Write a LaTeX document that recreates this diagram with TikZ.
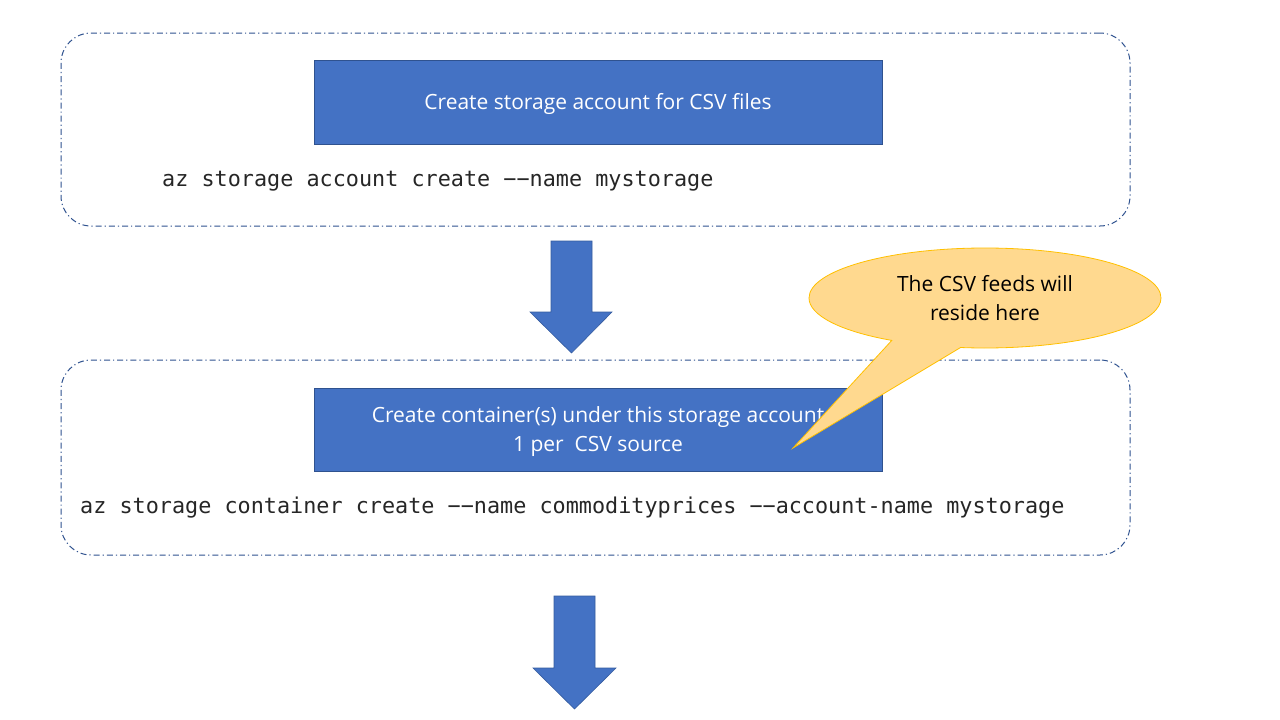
\documentclass[tikz,border=0pt]{standalone}
\usepackage{fontspec}
\setmainfont{Open Sans}
\newfontfamily\codefont{DejaVu Sans Mono}
\usetikzlibrary{shapes.callouts}
\definecolor{boxblue}{HTML}{4472C4}
\definecolor{boxedge}{HTML}{2F528F}
\definecolor{calloutfill}{HTML}{FFD98F}
\definecolor{calloutedge}{HTML}{FFC000}
\newcommand{\lowr}[1]{\raisebox{-2pt}[\height][\depth]{#1}}
\tikzset{
  groupbox/.style={draw=boxedge, line width=1pt, rounded corners=30pt,
    dash pattern=on 6pt off 3pt on 1.2pt off 3pt, inner sep=0pt},
  stepbox/.style={draw=boxedge, line width=1pt, fill=boxblue, text=white,
    minimum width=568pt, inner sep=0pt, align=center,
    font=\fontsize{21pt}{29pt}\selectfont},
  codetext/.style={anchor=west, inner sep=0pt, text=black!85,
    font=\codefont\fontsize{21.8pt}{26pt}\selectfont},
  blockarrow/.style={fill=boxblue, draw=boxedge!70!boxblue, line width=0.6pt},
  speech/.style={ellipse callout, draw=calloutedge, line width=0.8pt,
    fill=calloutfill, minimum width=352pt, minimum height=100pt,
    inner sep=0pt, align=center, callout pointer arc=24,
    font=\fontsize{21pt}{29pt}\selectfont}
}
\begin{document}
\begin{tikzpicture}[x=1pt,y=-1pt]
\useasboundingbox (0,0) rectangle (1280,720);
\fill[white] (0,0) rectangle (1280,720);
% group boxes
\node[groupbox, minimum width=1069pt, minimum height=193pt] (g1) at (595.5,129.5) {};
\node[groupbox, minimum width=1069pt, minimum height=195pt] (g2) at (595.5,457.5) {};
% step boxes
\node[stepbox, minimum height=84pt] (s1) at (598,102) {\lowr{Create storage account for CSV files}};
\node[stepbox, minimum height=83pt] (s2) at (598,429.5) {\lowr{Create container(s) under this storage account}\\\lowr{1 per\ \ CSV source}};
% code lines
\node[codetext] (c1) at (162,181) {az storage account create −−name mystorage};
\node[codetext] (c2) at (80,507.5) {az storage container create −−name commodityprices −−account-name mystorage};
% block arrows
\draw[blockarrow] (551,241) -- (592,241) -- (592,312) -- (612,312) -- (571.5,353)
  -- (530,312) -- (551,312) -- cycle;
\draw[blockarrow] (554,596) -- (595,596) -- (595,668) -- (616,668) -- (574.5,709)
  -- (533,668) -- (554,668) -- cycle;
% callout
\node[speech, callout absolute pointer={(793,448)}] (note) at (985,298)
  {The CSV feeds will\\reside here};
\end{tikzpicture}
\end{document}
